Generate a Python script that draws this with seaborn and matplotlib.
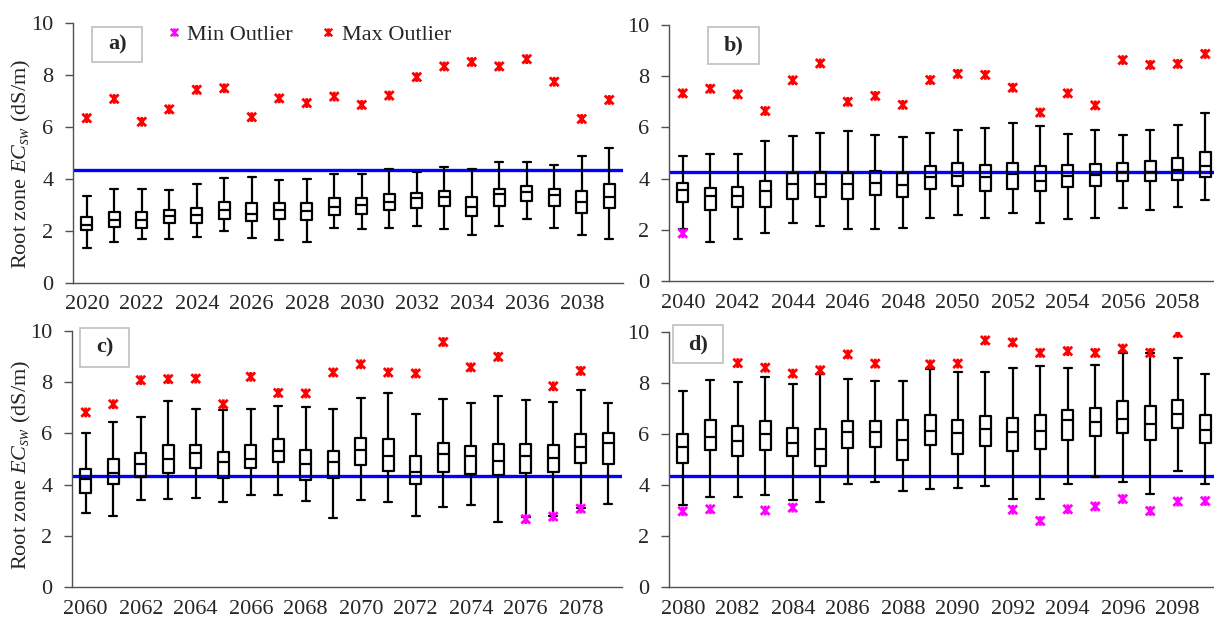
import numpy as np
import pandas as pd
import matplotlib
matplotlib.use("Agg")
import matplotlib.pyplot as plt
from matplotlib.path import Path
from matplotlib.markers import MarkerStyle
from matplotlib.lines import Line2D
from matplotlib.patches import Rectangle
import seaborn as sns

# ---- data (box statistics per year) ----
years = list(range(2020, 2100))

whisker_lo = [1.35, 1.56, 1.70, 1.71, 1.77, 2.00, 1.72, 1.65, 1.56, 2.10, 2.06, 2.12, 2.21, 2.08, 1.85, 2.20, 2.47, 2.10, 1.85, 1.68,
              2.02, 1.51, 1.65, 1.89, 2.25, 2.16, 2.02, 2.04, 2.08, 2.47, 2.58, 2.47, 2.67, 2.25, 2.43, 2.47, 2.84, 2.76, 2.90, 3.16,
              2.91, 2.79, 3.38, 3.45, 3.49, 3.31, 3.60, 3.60, 3.35, 2.71, 3.38, 3.31, 2.79, 3.14, 3.22, 2.55, 2.72, 2.79, 3.08, 3.25,
              3.23, 3.53, 3.53, 3.59, 3.42, 3.35, 4.05, 4.12, 3.78, 3.84, 3.87, 3.95, 3.45, 3.45, 4.05, 4.31, 4.12, 3.66, 4.54, 4.03]
q1 = [2.03, 2.16, 2.10, 2.29, 2.31, 2.48, 2.39, 2.48, 2.42, 2.61, 2.65, 2.80, 2.90, 2.97, 2.58, 2.97, 3.14, 2.97, 2.70, 2.87,
      3.10, 2.77, 2.88, 2.90, 3.19, 3.27, 3.22, 3.36, 3.29, 3.61, 3.71, 3.53, 3.58, 3.50, 3.68, 3.71, 3.89, 3.89, 3.93, 4.05,
      3.69, 4.03, 4.31, 4.44, 4.64, 4.25, 4.64, 4.88, 4.18, 4.26, 4.77, 4.55, 4.03, 4.51, 4.42, 4.38, 4.44, 4.51, 4.86, 4.82,
      4.86, 5.36, 5.15, 5.36, 5.12, 4.73, 5.45, 5.49, 4.99, 5.56, 5.23, 5.52, 5.35, 5.42, 5.75, 5.92, 6.03, 5.75, 6.22, 5.65]
median = [2.22, 2.42, 2.42, 2.57, 2.61, 2.80, 2.67, 2.80, 2.78, 2.93, 3.00, 3.12, 3.25, 3.32, 2.93, 3.41, 3.51, 3.38, 3.10, 3.29,
          3.55, 3.32, 3.33, 3.52, 3.78, 3.79, 3.79, 3.82, 3.74, 4.08, 4.11, 4.05, 4.17, 3.92, 4.11, 4.14, 4.27, 4.27, 4.34, 4.50,
          4.21, 4.44, 4.82, 5.00, 5.22, 4.87, 5.01, 5.32, 4.82, 4.90, 5.35, 5.12, 4.51, 5.18, 5.13, 4.94, 5.12, 5.05, 5.48, 5.61,
          5.49, 5.88, 5.73, 6.01, 5.66, 5.40, 6.08, 6.09, 5.75, 6.10, 6.04, 6.18, 6.07, 6.10, 6.54, 6.46, 6.60, 6.38, 6.77, 6.14]
q3 = [2.55, 2.74, 2.72, 2.80, 2.88, 3.10, 3.06, 3.07, 3.07, 3.25, 3.25, 3.42, 3.47, 3.55, 3.32, 3.62, 3.74, 3.60, 3.55, 3.80,
      3.82, 3.63, 3.68, 3.91, 4.20, 4.24, 4.23, 4.30, 4.20, 4.50, 4.60, 4.52, 4.60, 4.49, 4.52, 4.58, 4.62, 4.69, 4.82, 5.05,
      4.60, 4.99, 5.25, 5.55, 5.55, 5.29, 5.55, 5.77, 5.35, 5.31, 5.82, 5.78, 5.12, 5.64, 5.52, 5.60, 5.60, 5.56, 5.97, 6.03,
      5.99, 6.56, 6.31, 6.51, 6.24, 6.21, 6.52, 6.52, 6.54, 6.73, 6.54, 6.69, 6.63, 6.73, 6.93, 7.01, 7.28, 7.11, 7.32, 6.73]
whisker_hi = [3.34, 3.60, 3.62, 3.57, 3.80, 4.05, 4.09, 3.95, 4.00, 4.18, 4.18, 4.38, 4.25, 4.47, 4.38, 4.67, 4.64, 4.54, 4.90, 5.20,
              4.88, 4.96, 4.96, 5.47, 5.68, 5.77, 5.86, 5.72, 5.61, 5.79, 5.90, 5.98, 6.18, 6.04, 5.76, 5.90, 5.69, 5.90, 6.08, 6.55,
              6.03, 6.43, 6.65, 7.26, 6.94, 6.91, 6.94, 7.08, 7.03, 6.94, 7.39, 7.57, 6.75, 7.36, 7.17, 7.45, 7.30, 7.22, 7.70, 7.17,
              7.69, 8.10, 8.05, 8.25, 7.95, 8.37, 8.16, 8.07, 8.07, 8.54, 8.44, 8.43, 8.58, 8.68, 8.60, 8.69, 9.19, 9.18, 8.97, 8.37]
nan = np.nan
max_outlier = [6.34, 7.08, 6.20, 6.68, 7.43, 7.49, 6.38, 7.10, 6.92, 7.17, 6.85, 7.21, 7.92, 8.33, 8.50, 8.33, 8.61, 7.74, 6.31, 7.04,
               7.33, 7.51, 7.29, 6.64, 7.84, 8.50, 7.00, 7.23, 6.88, 7.85, 8.09, 8.05, 7.55, 6.58, 7.33, 6.86, 8.63, 8.44, 8.48, 8.87,
               6.82, 7.14, 8.08, 8.12, 8.14, 7.14, 8.21, 7.58, 7.56, 8.38, 8.70, 8.38, 8.34, 9.57, 8.58, 8.99, nan, 7.84, 8.44, nan,
               nan, nan, 8.78, 8.60, 8.37, 8.50, 9.12, 8.76, nan, 8.73, 8.76, 9.67, 9.59, 9.18, 9.25, 9.18, 9.35, 9.18, 9.96, nan]
min_outlier = [nan] * 20 + \
              [1.86] + [nan] * 19 + \
              [nan] * 16 + [2.65, 2.75, 3.06, nan] + \
              [2.97, 3.05, nan, 3.00, 3.11, nan, nan, nan, nan, nan, nan, nan, 3.03, 2.59, 3.05, 3.16, 3.45, 2.98, 3.35, 3.37]

panel_labels = ["a)", "b)", "c)", "d)"]
threshold = [4.35, 4.25, 4.35, 4.35]

# ---- style ----
sns.set_style("white")
plt.rcParams["font.family"] = ["Liberation Serif", "DejaVu Serif"]
plt.rcParams["mathtext.fontset"] = "custom"
plt.rcParams["mathtext.rm"] = "Liberation Serif"
plt.rcParams["mathtext.it"] = "Liberation Serif:italic"

FS = 16
GREY = "#505050"
# excel-like star marker: an x with a vertical bar (line art only)
star_path = Path([(-1, -1), (1, 1), (-1, 1), (1, -1), (0, -1.1), (0, 1.1)],
                 [Path.MOVETO, Path.LINETO] * 3)
star = MarkerStyle(star_path, fillstyle="none")

stats = pd.DataFrame({"year": [str(y) for y in years], "lo": whisker_lo, "q1": q1,
                      "med": median, "q3": q3, "hi": whisker_hi,
                      "max_out": max_outlier, "min_out": min_outlier})
long = stats.melt(id_vars="year", value_vars=["lo", "q1", "med", "q3", "hi"], value_name="EC")

fig = plt.figure(figsize=(12.14, 6.23), dpi=100)
W, H = 1214, 623
ax_px = [(73, 283, 260), (669, 281, 256), (72, 587, 256), (669, 587, 255)]
label_box = [(0.035, 0.850, 0.091, 0.135), (0.071, 0.848, 0.093, 0.145),
             (0.0145, 0.859, 0.089, 0.152), (0.007, 0.878, 0.091, 0.149)]
ylabel_pos = {0: (-0.072, 0.46), 2: (-0.071, 0.477)}

for i in range(4):
    left, bottom, height = ax_px[i]
    ax = fig.add_axes([left / W, (H - bottom) / H, 550 / W, height / H])
    yrs = [str(y) for y in years[i * 20:(i + 1) * 20]]
    sub = long[long["year"].isin(yrs)]
    sub_stats = stats[stats["year"].isin(yrs)]

    sns.boxplot(data=sub, x="year", y="EC", order=yrs, whis=(0, 100), fill=False,
                color="black", linewidth=1.6, width=0.4, capwidths=0.3, ax=ax)
    ax.axhline(threshold[i], color="#0000FF", lw=2.4, zorder=1)
    sns.stripplot(data=sub_stats, x="year", y="max_out", order=yrs, jitter=False,
                  marker=star, s=7, color="#FF0000", linewidth=2.0, ax=ax, zorder=4)
    sns.stripplot(data=sub_stats, x="year", y="min_out", order=yrs, jitter=False,
                  marker=star, s=7, color="#FF00FF", linewidth=2.0, ax=ax, zorder=4)

    ax.set_xlim(-0.5, 19.5)
    ax.set_ylim(0, 10)
    ax.set_yticks(range(0, 11, 2))
    ax.set_xticks(range(0, 20, 2))
    ax.set_xticklabels(yrs[::2])
    ax.set_xticks(np.arange(-0.5, 20, 2), minor=True)
    ax.tick_params(axis="x", which="major", length=0, pad=9, labelsize=FS)
    ax.tick_params(axis="x", which="minor", length=5, width=1, color=GREY)
    ax.tick_params(axis="y", length=6, width=1, color=GREY, pad=8, labelsize=FS, left=True)
    ax.set_xlabel("")
    if i in (0, 2):
        ax.set_ylabel("Root zone $EC_{sw}$ (dS/m)", fontsize=FS)
        ax.yaxis.set_label_coords(*ylabel_pos[i])
    else:
        ax.set_ylabel("")
    sns.despine(ax=ax)
    for side in ("left", "bottom"):
        ax.spines[side].set_color(GREY)
        ax.spines[side].set_linewidth(1)

    x0, y0, bw, bh = label_box[i]
    ax.add_patch(Rectangle((x0, y0), bw, bh, transform=ax.transAxes, facecolor="white",
                           edgecolor="#BFBFBF", lw=1.2, clip_on=False, zorder=5))
    ax.text(x0 + bw / 2, y0 + bh / 2, panel_labels[i], transform=ax.transAxes, ha="center",
            va="center", fontsize=FS, fontweight="bold", zorder=6)

    if i == 0:
        handles = [Line2D([], [], ls="none", marker=star, ms=6, mew=1.7, color="#FF00FF"),
                   Line2D([], [], ls="none", marker=star, ms=6, mew=1.7, color="#FF0000")]
        ax.legend(handles, ["Min Outlier", "Max Outlier"], loc="center left",
                  bbox_to_anchor=(0.167, 0.954), ncol=2, frameon=False, fontsize=FS,
                  handlelength=0.8, handletextpad=0.2, columnspacing=1.2,
                  borderpad=0, borderaxespad=0)

fig.savefig("out.png", dpi=100)
